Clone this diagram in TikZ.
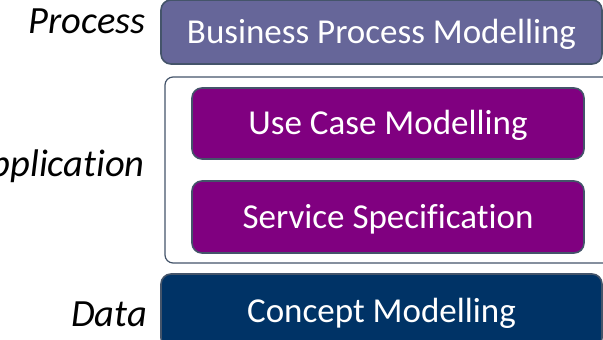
\documentclass[tikz,border=0pt]{standalone}
\usepackage{fontspec}
\setmainfont[Ligatures=NoCommon]{Carlito}
\definecolor{procfill}{HTML}{666699}
\definecolor{appfill}{HTML}{800080}
\definecolor{datafill}{HTML}{003366}
\definecolor{edge}{HTML}{44546A}
\tikzset{
  layerbox/.style={draw=edge, line width=1.6pt, rounded corners=10pt, text=white,
    font=\fontsize{35}{40}\selectfont, inner sep=0pt, text height=22pt, text depth=0pt},
  layerlabel/.style={anchor=base east, inner sep=0pt, font=\fontsize{38.5}{42}\selectfont\itshape},
}
\begin{document}
\begin{tikzpicture}[x=1pt,y=-1pt]
\useasboundingbox (0,0) rectangle (603,340);
\clip (0,0) rectangle (603,340);
\node[draw=edge, line width=1.2pt, rounded corners=8pt, fill=white, minimum width=450pt, minimum height=186pt, inner sep=0pt] (app) at (390,170) {};
\node[layerbox, fill=procfill, minimum width=441pt, minimum height=64pt] (proc) at (381.5,32) {Business Process Modelling};
\node[layerbox, fill=appfill, minimum width=392pt, minimum height=71pt] (usecase) at (388,123.5) {Use Case Modelling};
\node[layerbox, fill=appfill, minimum width=392pt, minimum height=72pt] (service) at (388,217) {Service Specification};
\node[layerbox, fill=datafill, minimum width=441pt, minimum height=74pt] (concept) at (381.5,311) {Concept Modelling};
\node[layerlabel] (lproc) at (146,34) {Process};
\node[layerlabel] (lapp) at (145,176) {Application};
\node[layerlabel] (ldata) at (147,326) {Data};
\end{tikzpicture}
\end{document}
